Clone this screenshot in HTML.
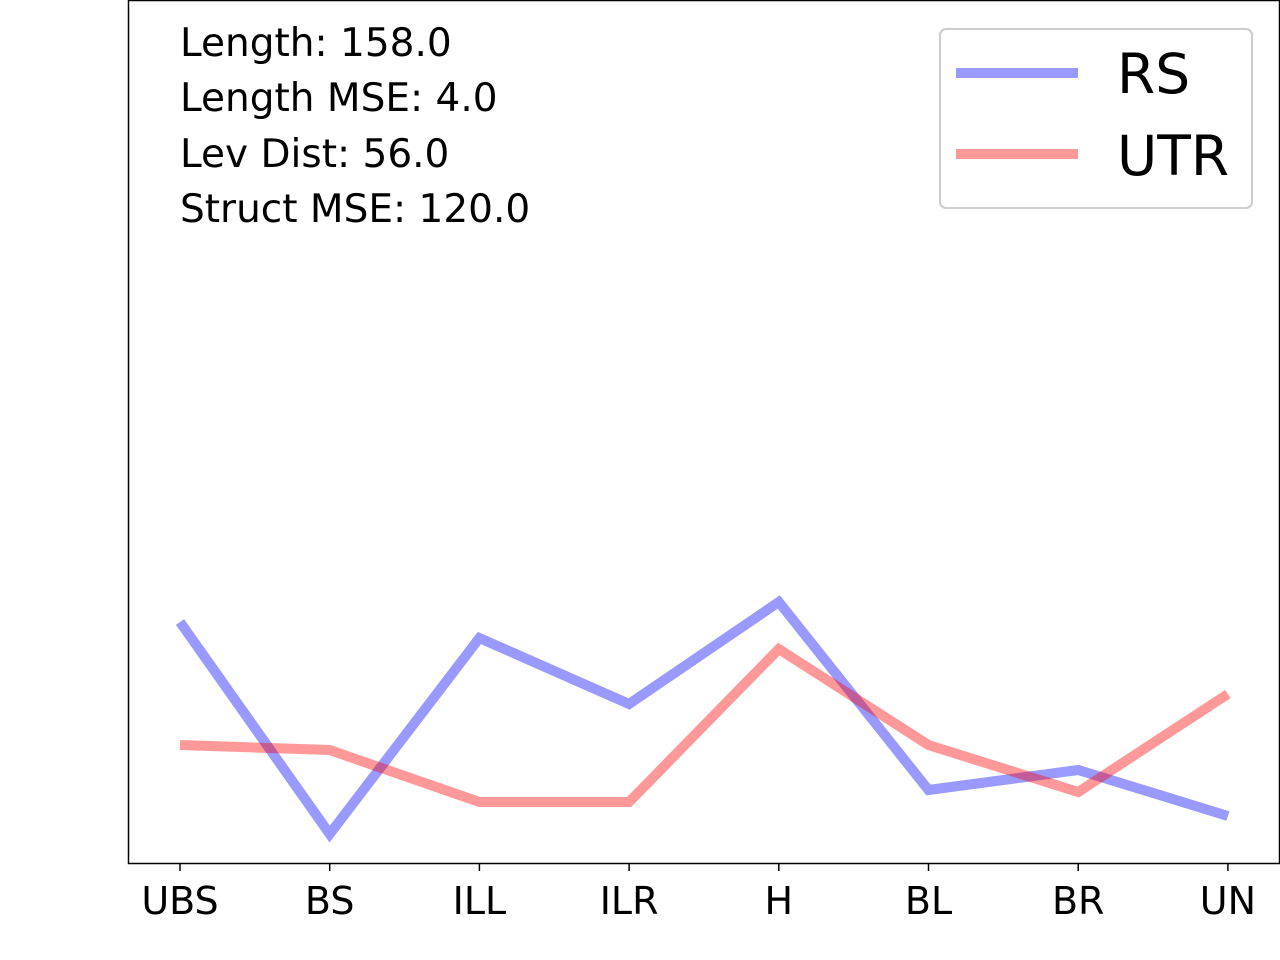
<!DOCTYPE html>
<html><head><meta charset="utf-8"><style>
body{margin:0;background:#fff;}
svg{display:block;font-family:"DejaVu Sans","Liberation Sans",sans-serif;}
</style></head><body>
<svg id="chart" width="1280" height="960">
<rect x="128.5" y="0.5" width="1151" height="863" fill="none" stroke="#000" stroke-width="1.5"/>
<g id="ticks"></g>
<g id="lines"></g>
<g font-size="39" fill="#000">
<text x="180" y="56">Length: 158.0</text>
<text x="180" y="111">Length MSE: 4.0</text>
<text x="180" y="167">Lev Dist: 56.0</text>
<text x="180" y="222">Struct MSE: 120.0</text>
</g>
<g>
<rect x="940" y="29" width="312" height="179" rx="6" fill="#fff" fill-opacity="0.8" stroke="#ccc" stroke-width="2"/>
<line x1="956" y1="73" x2="1078" y2="73" stroke="#0000ff" stroke-opacity="0.4" stroke-width="10"/>
<text x="1117" y="93" font-size="55">RS</text>
<line x1="956" y1="154" x2="1078" y2="154" stroke="#ff0000" stroke-opacity="0.4" stroke-width="10"/>
<text x="1117" y="175" font-size="55">UTR</text>
</g>
</svg>
<script>
const categories = ["UBS","BS","ILL","ILR","H","BL","BR","UN"];
const rsValues = [241, 29, 225, 159, 261, 73, 93, 47];
const utrValues = [118, 113, 61, 61, 214, 118, 71, 169];
const NS = "http://www.w3.org/2000/svg";
function xScale(i){ return 180 + i * 149.7; }
function yScale(v){ return 863 - v; }
const ticks = document.getElementById('ticks');
categories.forEach((c,i)=>{
  const l = document.createElementNS(NS,'line');
  l.setAttribute('x1',xScale(i)); l.setAttribute('x2',xScale(i));
  l.setAttribute('y1',864); l.setAttribute('y2',871);
  l.setAttribute('stroke','#000'); l.setAttribute('stroke-width','1.5');
  
  
  ticks.appendChild(l);
  const t = document.createElementNS(NS,'text');
  t.setAttribute('x',xScale(i)); t.setAttribute('y',914);
  t.setAttribute('text-anchor','middle'); t.setAttribute('font-size','38');
  t.textContent = c;
  
  
  ticks.appendChild(t);
});
const lines = document.getElementById('lines');
function drawSeries(vals,color,name){
  const p = document.createElementNS(NS,'polyline');
  p.setAttribute('points', vals.map((v,i)=>xScale(i)+','+yScale(v)).join(' '));
  p.setAttribute('fill','none'); p.setAttribute('stroke',color);
  p.setAttribute('stroke-opacity','0.4'); p.setAttribute('stroke-width','10');
  
  
  lines.appendChild(p);
}
drawSeries(rsValues,'#0000ff','rs-line');
drawSeries(utrValues,'#ff0000','utr-line');
</script>
</body></html>
